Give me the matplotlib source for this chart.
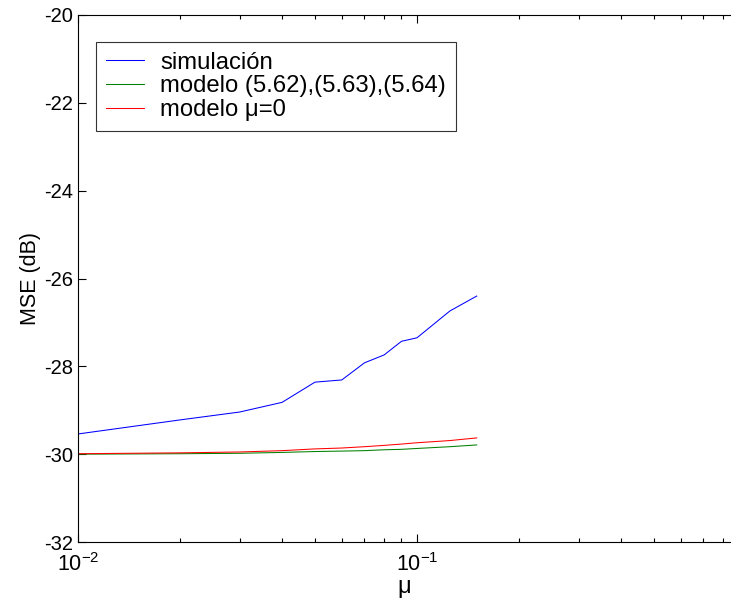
import matplotlib
matplotlib.use("Agg")
import matplotlib.pyplot as plt
from matplotlib.ticker import LogLocator, NullFormatter

plt.rcParams['font.family'] = ['Liberation Sans', 'DejaVu Sans']
plt.rcParams['mathtext.fontset'] = 'custom'
plt.rcParams['mathtext.rm'] = 'Liberation Sans'
plt.rcParams['mathtext.it'] = 'Liberation Sans'

mu = [0.01, 0.02, 0.03, 0.04, 0.05, 0.06, 0.07, 0.08, 0.09, 0.1, 0.125, 0.15]
simulacion = [-29.54, -29.22, -29.04, -28.82, -28.36, -28.31, -27.92, -27.74,
              -27.43, -27.35, -26.74, -26.40]
modelo_eq = [-30.00, -29.99, -29.98, -29.96, -29.94, -29.93, -29.92, -29.90,
             -29.89, -29.87, -29.83, -29.79]
modelo_mu0 = [-29.99, -29.97, -29.95, -29.92, -29.88, -29.86, -29.83, -29.80,
              -29.77, -29.74, -29.69, -29.63]
labels = ['simulación', 'modelo (5.62),(5.63),(5.64)', 'modelo μ=0']
yticks = [-32, -30, -28, -26, -24, -22, -20]

fig = plt.figure(figsize=(7.31, 6.0), dpi=100)
ax = fig.add_axes([78/731, 1 - 542/600, 1 - 78/731, (542 - 15)/600])

ax.plot(mu, simulacion, color='#0000ff', lw=0.75, label=labels[0])
ax.plot(mu, modelo_eq, color='#008000', lw=0.75, label=labels[1])
ax.plot(mu, modelo_mu0, color='#ff0000', lw=0.75, label=labels[2])

ax.set_xscale('log')
ax.set_xlim(0.01, 0.01 * 10 ** ((731 - 78) / 339))
ax.set_ylim(-32, -20)
ax.set_yticks(yticks)
ax.set_yticklabels([str(v) for v in yticks])
ax.xaxis.set_major_locator(LogLocator(base=10, numticks=10))
ax.xaxis.set_minor_locator(LogLocator(base=10, subs=range(2, 10), numticks=20))
ax.xaxis.set_minor_formatter(NullFormatter())

ax.tick_params(which='both', direction='in', top=True, right=False,
               labelsize=14.5, width=0.8)
ax.tick_params(axis='x', which='major', labelsize=15.5, pad=8)
ax.tick_params(which='major', length=6)
ax.tick_params(which='minor', length=3)
for s in ax.spines.values():
    s.set_linewidth(0.8)
ax.spines['right'].set_visible(False)

ax.set_xlabel('μ', fontsize=17, labelpad=0)
ax.set_ylabel('MSE (dB)', fontsize=15.5, labelpad=2)

leg = ax.legend(loc='upper left', bbox_to_anchor=((96 - 78)/653, 1 - (42 - 15)/527),
                bbox_transform=ax.transAxes, fontsize=17.2, frameon=True,
                fancybox=False, edgecolor='black', handlelength=1.6,
                labelspacing=0.08, borderpad=0.4, handletextpad=0.7,
                borderaxespad=0)
leg.get_frame().set_linewidth(0.8)

fig.savefig('out.png', dpi=100)
